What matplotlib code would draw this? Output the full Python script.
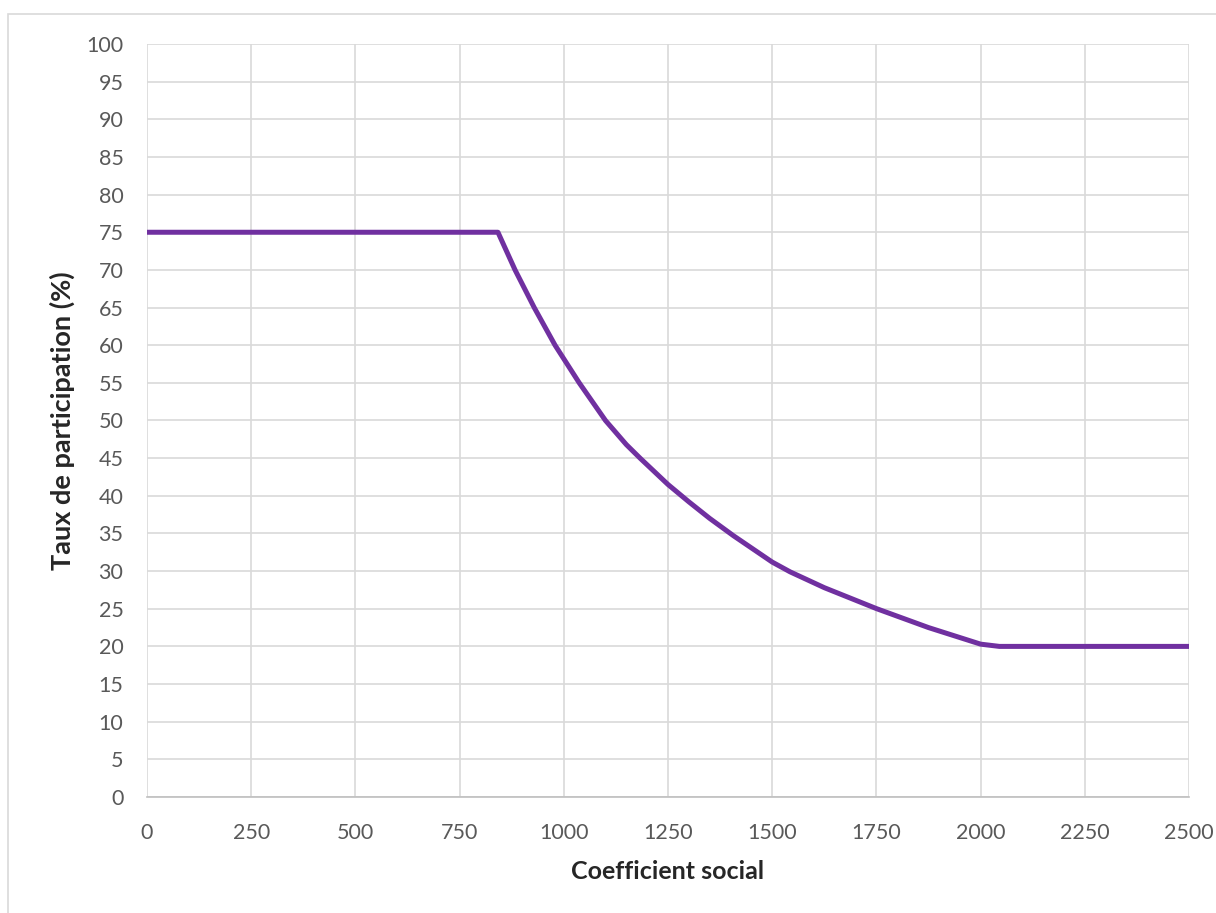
import matplotlib
matplotlib.use("Agg")
import matplotlib.pyplot as plt
from matplotlib.patches import Rectangle

# Data
coef_social = [0, 842, 883, 929, 979, 1037, 1100, 1150, 1183, 1250, 1300, 1350, 1407,
               1500, 1543, 1625, 1751, 1875, 2000, 2045, 2500]
taux_participation = [75, 75, 70, 65, 60, 55, 50, 46.8, 45, 41.5, 39.2, 37.0, 34.7,
                      31.2, 29.9, 27.8, 25, 22.5, 20.3, 20, 20]

x_ticks = list(range(0, 2501, 250))
y_ticks = list(range(0, 101, 5))

plt.rcParams['font.family'] = ['Lato', 'DejaVu Sans']

fig = plt.figure(figsize=(12.16, 9.13), dpi=100)
# outer chart border (light gray), visible on top and left
fig.patches.append(Rectangle((8 / 1216, -0.1), 1.2, (913 - 14) / 913 + 0.1,
                             transform=fig.transFigure, fill=False,
                             edgecolor='#d9d9d9', linewidth=1.2))

ax = fig.add_axes([147 / 1216, 1 - 797 / 913, (1189 - 147) / 1216, (797 - 44) / 913])
ax.plot(coef_social, taux_participation, color='#7030A0', linewidth=3.6,
        solid_joinstyle='round', solid_capstyle='butt', zorder=3)

ax.set_xlim(0, 2500)
ax.set_ylim(0, 100)
ax.set_xticks(x_ticks)
ax.set_yticks(y_ticks)
ax.grid(True, color='#d9d9d9', linewidth=1.2)
ax.set_axisbelow(True)
for s in ['top', 'right', 'left']:
    ax.spines[s].set_visible(False)
ax.spines['bottom'].set_color('#bfbfbf')
ax.spines['bottom'].set_linewidth(1.2)
ax.tick_params(axis='both', length=0, labelsize=15.5, labelcolor='#595959')
ax.tick_params(axis='x', pad=19)
ax.tick_params(axis='y', pad=17)

ax.set_xlabel('Coefficient social', fontsize=18, fontweight='bold', color='#262626', labelpad=12)
ax.set_ylabel('Taux de participation (%)', fontsize=19.5, fontweight='bold', color='#262626', labelpad=8)

fig.savefig('out.png', dpi=100, facecolor='white')
